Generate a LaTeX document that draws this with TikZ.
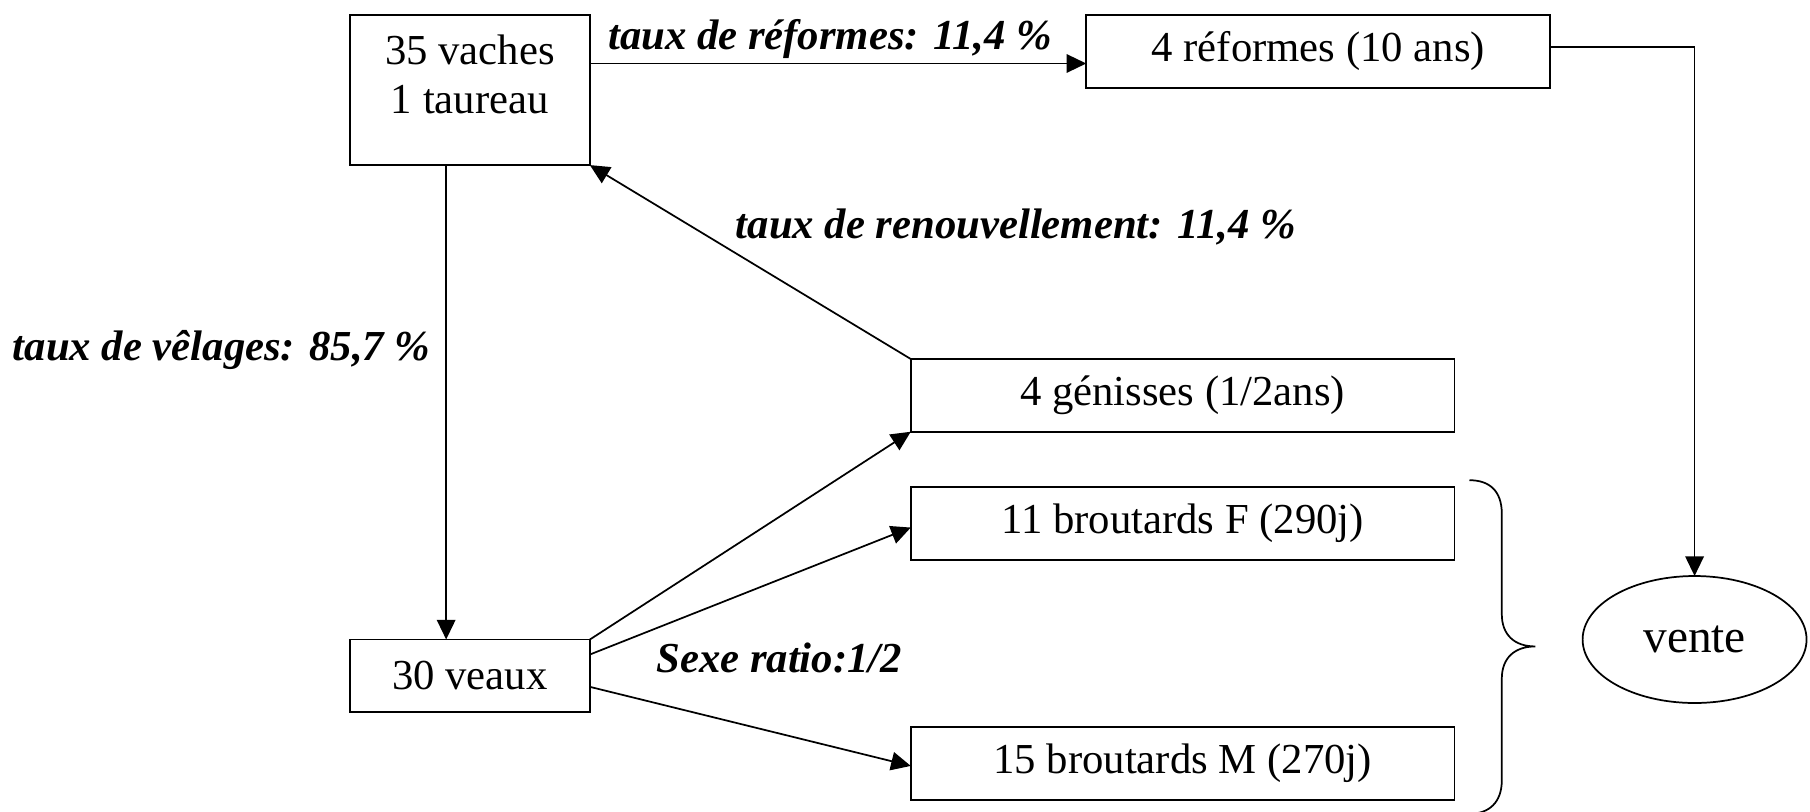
\documentclass[tikz,border=0pt]{standalone}
\usepackage{fontspec}
\setmainfont{Liberation Serif}
\usetikzlibrary{arrows.meta,shapes.geometric}
\begin{document}
\begin{tikzpicture}[x=0.5pt,y=-0.5pt,
  every node/.style={font=\fontsize{18.5}{21}\selectfont},
  box/.style={draw,line width=0.75pt,inner sep=0pt,outer sep=0pt,anchor=north west},
  txt/.style={inner sep=0pt,anchor=base},
  lbl/.style={font=\fontsize{18.5}{21}\selectfont\bfseries\itshape,inner sep=0pt,anchor=base},
  arr/.style={line width=0.75pt,-{Triangle[length=8.5pt,width=8pt]}},
  ]
\useasboundingbox (0,0) rectangle (1568,703);
% boxes
\node[box,minimum width=104pt,minimum height=65pt] (A) at (303,13) {};
\node[txt] (A1) at (407,56) {35 vaches};
\node[txt] (A2) at (407,98) {1 taureau};
\node[box,minimum width=201pt,minimum height=31.5pt] (B) at (941,13) {4 réformes (10 ans)};
\node[box,minimum width=235.5pt,minimum height=31.5pt] (C) at (789,311) {4 génisses (1/2ans)};
\node[box,minimum width=235.5pt,minimum height=31.5pt] (D) at (789,422) {11 broutards F (290j)};
\node[box,minimum width=235.5pt,minimum height=31.5pt] (E) at (789,630) {15 broutards M (270j)};
\node[box,minimum width=104pt,minimum height=31.5pt] (F) at (303,554) {30 veaux};
\node[draw,ellipse,line width=0.75pt,minimum width=97pt,minimum height=55pt,inner sep=0pt,outer sep=0pt,font=\fontsize{20.5}{23}\selectfont] (V) at (1468,554) {vente};
% connectors
\draw[arr] ([yshift=-21pt]A.north east) -- ([yshift=-21pt]B.north west);
\draw[arr] ([yshift=1.75pt]B.east) -| (V.north);
\draw[arr] (C.north west) -- (A.south east);
\draw[arr] ([xshift=-10.25pt]A.south) -- ([xshift=-10.25pt]F.north);
\draw[arr] (F.north east) -- (C.south west);
\draw[arr] ([yshift=-6.5pt]F.north east) -- ([yshift=-1.75pt]D.west);
\draw[arr] ([yshift=-20.5pt]F.north east) -- ([yshift=-1pt]E.west);
% labels
\node[lbl] (L1) at (719,43) {taux de réformes: 11,4 \%};
\node[lbl] (L2) at (880,207) {taux de renouvellement: 11,4 \%};
\node[lbl] (L3) at (192,312) {taux de vêlages: 85,7 \%};
\node[lbl] (L4) at (675,583) {Sexe ratio:1/2};
% brace
\draw[line width=0.75pt] (1273,416) .. controls (1290,416) and (1301,425) .. (1301,445)
  -- (1301,532) .. controls (1301,550) and (1312,560) .. (1330,560)
  .. controls (1312,560) and (1301,570) .. (1301,588)
  -- (1301,676) .. controls (1301,695) and (1290,705) .. (1273,705);
\end{tikzpicture}
\end{document}
